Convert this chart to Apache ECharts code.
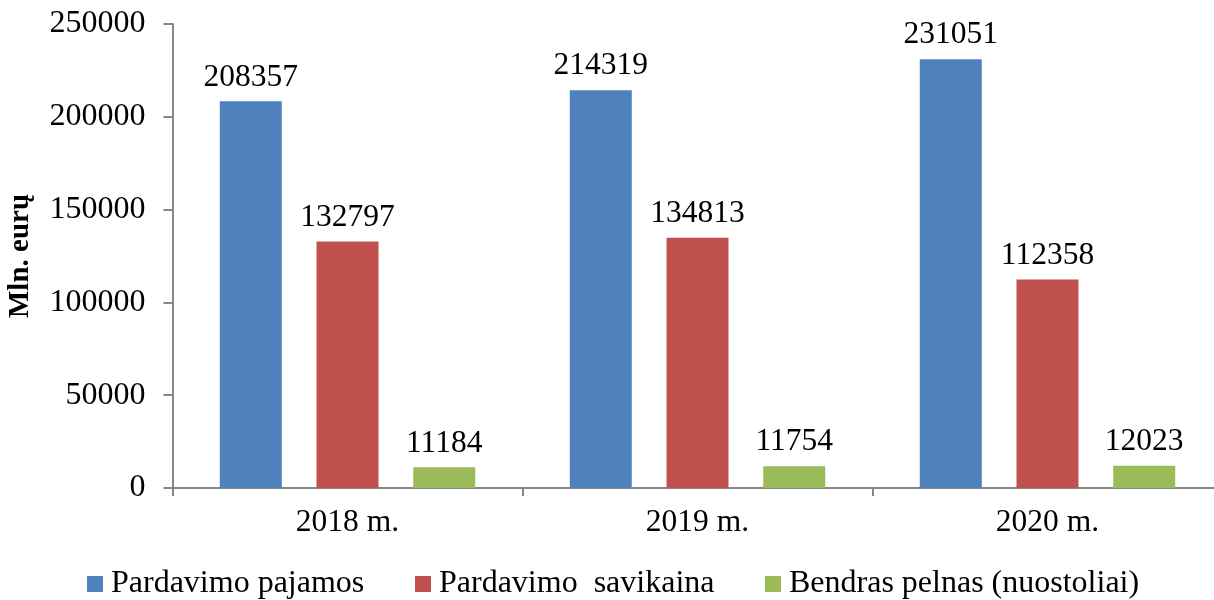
<!DOCTYPE html>
<html>
<head>
<meta charset="utf-8">
<script src="https://cdn.jsdelivr.net/npm/echarts@6/dist/echarts.min.js"></script>
<style>
html,body{margin:0;padding:0;background:#fff;}
#chart{width:1214px;height:600px;}
</style>
</head>
<body>
<div id="chart"></div>
<script>
const categories = ['2018 m.', '2019 m.', '2020 m.'];
const seriesNames = ['Pardavimo pajamos', 'Pardavimo  savikaina', 'Bendras pelnas (nuostoliai)'];
const pajamos = [208357, 214319, 231051];
const savikaina = [132797, 134813, 112358];
const pelnas = [11184, 11754, 12023];
const yTicks = [0, 50000, 100000, 150000, 200000, 250000];

const FONT = '"Liberation Serif", "Times New Roman", serif';
const colors = ['#4F81BD', '#C0504D', '#9BBB59'];
const chart = echarts.init(document.getElementById('chart'));

function barSeries(name, data, color) {
  return {
    name: name,
    type: 'bar',
    data: data,
    barWidth: 62,
    barGap: '56%',
    itemStyle: { color: color },
    label: {
      show: true,
      position: 'top',
      distance: 8,
      color: '#000',
      fontFamily: FONT,
      fontSize: 31.5
    },
    emphasis: { disabled: true }
  };
}

function legendAt(left, name) {
  return {
    left: left,
    top: 568,
    data: [name],
    icon: 'rect',
    itemWidth: 16,
    itemHeight: 16,
    itemGap: 0,
    padding: 0,
    selectedMode: false,
    formatter: '{t|{name}}',
    textStyle: {
      fontFamily: FONT, fontSize: 32, color: '#000',
      rich: { t: { fontFamily: FONT, fontSize: 32, color: '#000', padding: [0, 0, 0, 3] } }
    }
  };
}

chart.setOption({
  animation: false,
  textStyle: { fontFamily: FONT },
  color: colors,
  legend: [
    legendAt(87, seriesNames[0]),
    legendAt(415, seriesNames[1]),
    legendAt(765, seriesNames[2])
  ],
  grid: { left: 172.5, top: 24, width: 1050, height: 464, containLabel: false, outerBoundsMode: 'none' },
  xAxis: {
    type: 'category',
    data: categories,
    axisLine: { lineStyle: { color: '#868686', width: 2 } },
    axisTick: { show: true, length: 8, lineStyle: { color: '#868686', width: 2 } },
    axisLabel: { color: '#000', fontFamily: FONT, fontSize: 31.5, margin: 19 }
  },
  yAxis: {
    type: 'value',
    min: yTicks[0],
    max: yTicks[yTicks.length - 1],
    interval: 50000,
    name: 'Mln. eurų',
    nameLocation: 'middle',
    nameGap: 137,
    nameTextStyle: { fontFamily: FONT, fontSize: 29, fontWeight: 'bold', color: '#000' },
    axisLine: { show: true, lineStyle: { color: '#868686', width: 2 } },
    axisTick: { show: true, length: 9, lineStyle: { color: '#868686', width: 2 } },
    splitLine: { show: false },
    axisLabel: {
      color: '#000', fontFamily: FONT, fontSize: 32, margin: 27,
      formatter: function (v) { return String(v); }
    }
  },
  series: [
    barSeries(seriesNames[0], pajamos, colors[0]),
    barSeries(seriesNames[1], savikaina, colors[1]),
    barSeries(seriesNames[2], pelnas, colors[2])
  ]
});
</script>
</body>
</html>
